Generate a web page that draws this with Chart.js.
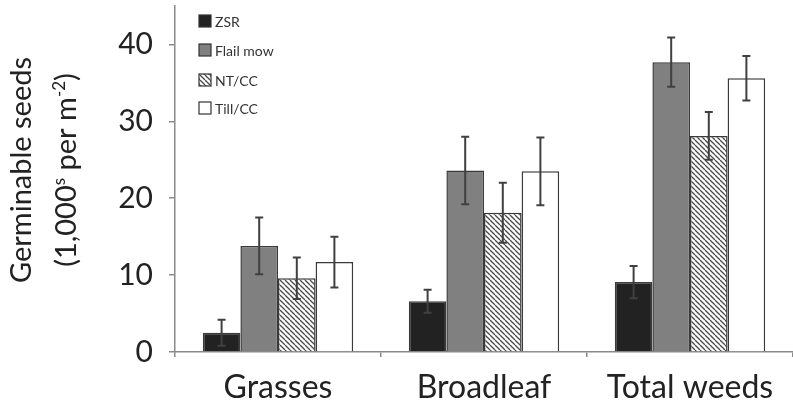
<!DOCTYPE html>
<html>
<head>
<meta charset="utf-8">
<script src="https://cdn.jsdelivr.net/npm/chart.js@4"></script>
<style>
  html, body { margin: 0; padding: 0; background: #fff; overflow: hidden; }
  #wrap { width: 793px; height: 408px; }
</style>
</head>
<body>
<div id="wrap"><canvas id="chart"></canvas></div>
<script>
// data
const categories = ['Grasses', 'Broadleaf', 'Total weeds'];
const seriesNames = ['ZSR', 'Flail mow', 'NT/CC', 'Till/CC'];
const zsr = [2.5, 6.6, 9.1];
const flailMow = [13.8, 23.6, 37.7];
const ntcc = [9.6, 18.1, 28.1];
const tillcc = [11.7, 23.5, 35.6];
// standard errors (half of whisker length)
const zsrErr = [1.7, 1.5, 2.1];
const flailErr = [3.7, 4.4, 3.2];
const ntccErr = [2.7, 3.9, 3.1];
const tillErr = [3.3, 4.4, 2.9];

const FONT = "Lato, 'Open Sans', sans-serif";

// diagonal hatch for NT/CC
function makeHatch() {
    const s = 5;
    const c = document.createElement('canvas');
    c.width = s; c.height = s;
    const g = c.getContext('2d');
    g.fillStyle = '#ffffff';
    g.fillRect(0, 0, s, s);
    g.strokeStyle = '#4a4a4a';
    g.lineWidth = 1.3;
    for (let k = -1; k <= 1; k++) {
        g.beginPath();
        g.moveTo(k * s, 0);
        g.lineTo(k * s + s, s);
        g.stroke();
    }
    return g.createPattern(c, 'repeat');
}
const ctx0 = document.getElementById('chart').getContext('2d');
const hatch = makeHatch();

const fills = ['#222222', '#808080', hatch, '#ffffff'];
const values = [zsr, flailMow, ntcc, tillcc];
const errors = [zsrErr, flailErr, ntccErr, tillErr];

// whiskers
const errorBarPlugin = {
    id: 'errorBars',
    afterDatasetsDraw(chart) {
        const ctx = chart.ctx;
        const y = chart.scales.y;
        ctx.save();
        ctx.strokeStyle = '#404040';
        ctx.lineWidth = 2;
        chart.data.datasets.forEach((ds, i) => {
            const meta = chart.getDatasetMeta(i);
            meta.data.forEach((bar, j) => {
                const v = ds.data[j];
                const e = errors[i][j];
                const top = y.getPixelForValue(v + e);
                const bot = y.getPixelForValue(v - e);
                const x = bar.x;
                ctx.beginPath();
                ctx.moveTo(x, top); ctx.lineTo(x, bot);
                ctx.moveTo(x - 4, top); ctx.lineTo(x + 4, top);
                ctx.moveTo(x - 4, bot); ctx.lineTo(x + 4, bot);
                ctx.stroke();
            });
        });
        ctx.restore();
    }
};

// legend floating in top-left of plot
const legendPlugin = {
    id: 'floatLegend',
    afterDraw(chart) {
        const ctx = chart.ctx;
        const rowsY = [21, 50, 80, 108];
        ctx.save();
        ctx.font = '14px ' + FONT;
        ctx.textBaseline = 'middle';
        chart.data.datasets.forEach((ds, i) => {
            const yy = rowsY[i];
            ctx.fillStyle = ds.backgroundColor;
            ctx.fillRect(199, yy - 6, 12, 12);
            ctx.strokeStyle = '#333';
            ctx.lineWidth = 1.2;
            ctx.strokeRect(199, yy - 6, 12, 12);
            ctx.fillStyle = '#333';
            ctx.fillText(ds.label, 215, yy + 1);
        });
        ctx.restore();
    }
};

// two-line rotated y title with superscripts
const yTitlePlugin = {
    id: 'yTitle',
    afterDraw(chart) {
        const ctx = chart.ctx;
        const big = '29px ' + FONT;
        const small = '17px ' + FONT;
        ctx.save();
        ctx.fillStyle = '#222';
        ctx.textBaseline = 'alphabetic';
        ctx.translate(0, 170);
        ctx.rotate(-Math.PI / 2);
        ctx.font = big;
        ctx.textAlign = 'center';
        ctx.fillText('Germinable seeds', 0, 31);
        const parts = [
            ['(1,000', big, 0],
            ['s', small, -11],
            [' per m', big, 0],
            ['-2', small, -11],
            [')', big, 0]
        ];
        let total = 0;
        parts.forEach(p => { ctx.font = p[1]; total += ctx.measureText(p[0]).width; });
        let x = -total / 2;
        ctx.textAlign = 'left';
        parts.forEach(p => {
            ctx.font = p[1];
            ctx.fillText(p[0], x, 76 + p[2]);
            x += ctx.measureText(p[0]).width;
        });
        ctx.restore();
    }
};

new Chart(ctx0, {
    type: 'bar',
    data: {
        labels: categories,
        datasets: seriesNames.map((name, i) => ({
            label: name,
            data: values[i],
            backgroundColor: fills[i],
            borderColor: '#3a3a3a',
            borderWidth: 1.5,
            borderSkipped: 'bottom',
            categoryPercentage: 0.73,
            barPercentage: 1.0
        }))
    },
    options: {
        responsive: true,
        maintainAspectRatio: false,
        animation: false,
        layout: { padding: { top: 6, right: 0, bottom: 0, left: 0 } },
        plugins: {
            legend: { display: false },
            tooltip: { enabled: false }
        },
        scales: {
            x: {
                grid: { offset: true, drawOnChartArea: false, tickLength: 5, color: '#8a8a8a', lineWidth: 1.5 },
                border: { color: '#8a8a8a', width: 1.5 },
                ticks: { font: { size: 32, family: FONT }, color: '#222', padding: 11 },
                afterFit(s) { s.height = 56; }
            },
            y: {
                min: 0,
                max: 45,
                grid: { drawOnChartArea: false, tickLength: 6, color: '#8a8a8a', lineWidth: 1.5 },
                border: { color: '#8a8a8a', width: 1.5 },
                ticks: {
                    stepSize: 5,
                    padding: 16,
                    color: '#222',
                    font: { size: 30, family: FONT },
                    callback: v => (v % 10 === 0 ? v : '')
                },
                afterFit(s) {
                    s.width = 175;
                    // the empty top label should not push the plot down
                    s.paddingTop = 0;
                    s.paddingBottom = 0;
                }
            }
        }
    },
    plugins: [errorBarPlugin, legendPlugin, yTitlePlugin]
});
</script>
</body>
</html>
